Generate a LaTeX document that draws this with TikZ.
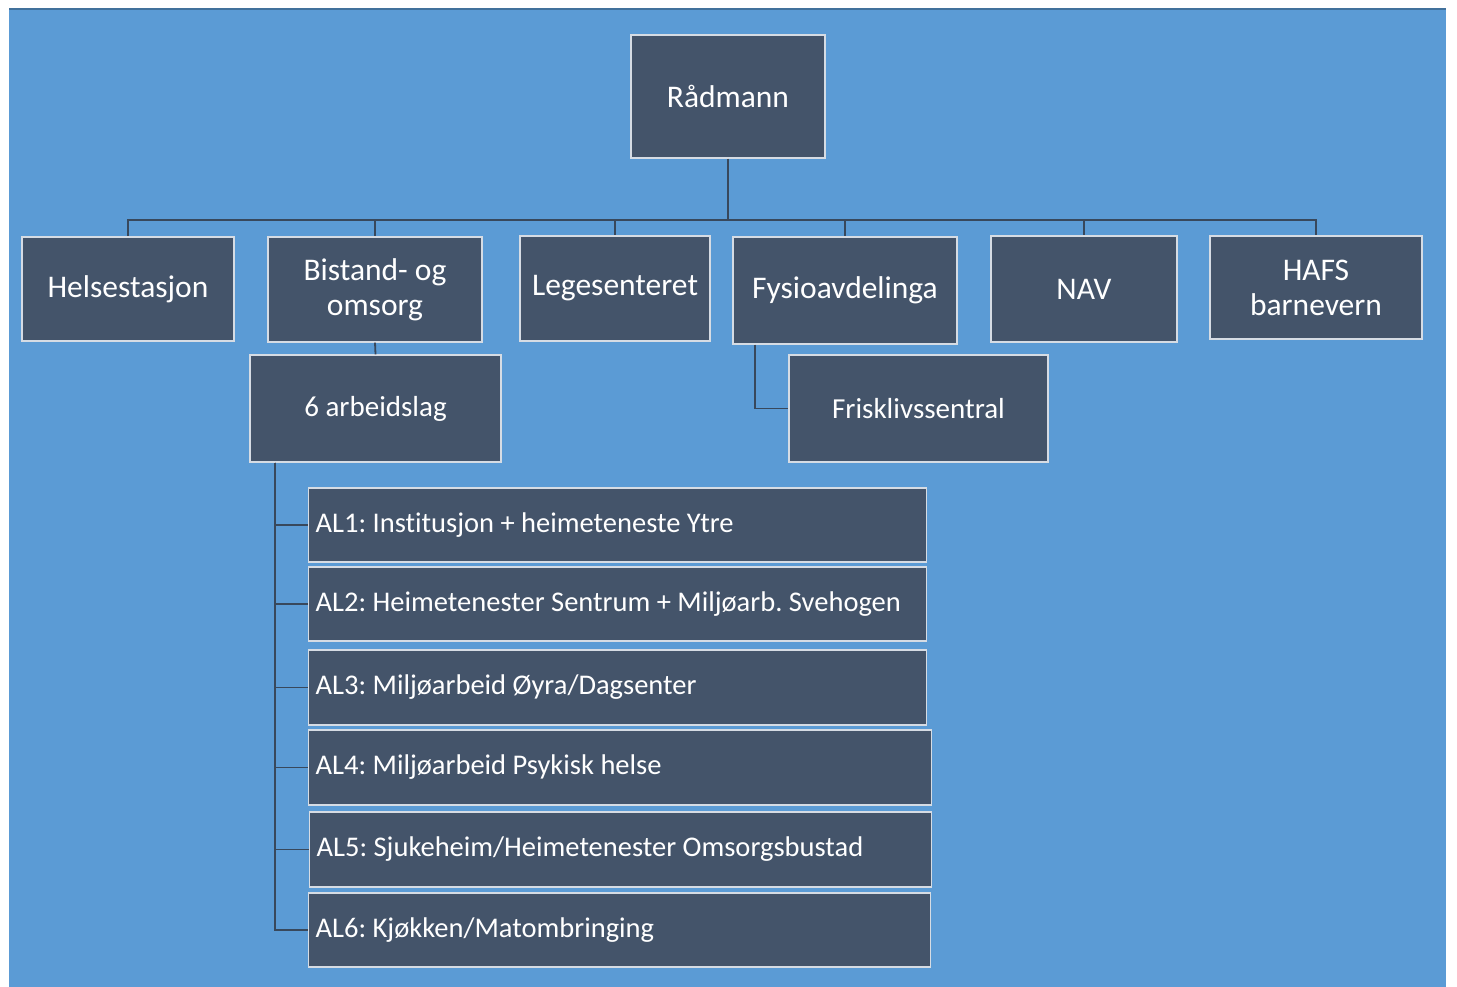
\documentclass[tikz,border=0pt]{standalone}
\usepackage{fontspec}
\setmainfont{Carlito}[Ligatures=NoCommon]
\definecolor{bg}{HTML}{5B9BD5}
\definecolor{bgedge}{HTML}{41719C}
\definecolor{boxfill}{HTML}{44546A}
\definecolor{boxline}{HTML}{D6DCE4}
\definecolor{conn}{HTML}{38485C}
\newcommand{\altext}[2]{\makebox[#1][l]{#2}}
\begin{document}
\frenchspacing
\begin{tikzpicture}[x=1pt,y=-1pt,
  box/.style={draw=boxline, line width=1.3pt, fill=boxfill, text=white,
    font=\fontsize{31.5}{35}\selectfont, inner sep=0pt, align=center},
  midbox/.style={box, font=\fontsize{29}{35}\selectfont},
  albox/.style={box, font=\fontsize{28.5}{34}\selectfont, anchor=west, inner xsep=7pt, inner ysep=0pt},
  conn/.style={draw=conn, line width=1.8pt}]
\useasboundingbox (0,0) rectangle (1457,987);
\fill[bg] (9,8) rectangle (1446,987);
\draw[bgedge, line width=2pt] (9,9) -- (1446,9);

\node[box, minimum width=194pt, minimum height=123pt] (radmann) at (728,96.5) {Rådmann};
\node[box, minimum width=212pt, minimum height=104pt] (helse) at (128,289) {Helsestasjon};
\node[box, minimum width=214pt, minimum height=105pt] (bistand) at (375,289.5) {Bistand- og\\omsorg};
\node[box, minimum width=190pt, minimum height=105pt] (lege) at (615,288.5) {Legesenteret};
\node[box, minimum width=224pt, minimum height=107pt] (fysio) at (845,290.5) {Fysioavdelinga};
\node[box, minimum width=186pt, minimum height=106pt] (nav) at (1084,289) {NAV};
\node[box, minimum width=212pt, minimum height=103pt] (hafs) at (1316,287.5) {HAFS\\barnevern};
\node[midbox, minimum width=251pt, minimum height=107pt] (arb) at (375.5,408.5) {6 arbeidslag};
\node[midbox, minimum width=259pt, minimum height=107pt] (frisk) at (918.5,408.5) {Frisklivssentral};

\node[albox, minimum height=74pt] (al1) at (308,525) {\altext{604pt}{AL1: Institusjon + heimeteneste Ytre}};
\node[albox, minimum height=74pt] (al2) at (308,604) {\altext{604pt}{AL2: Heimetenester Sentrum + Miljøarb. Svehogen}};
\node[albox, minimum height=75pt] (al3) at (308,687.5) {\altext{604pt}{AL3: Miljøarbeid Øyra/Dagsenter}};
\node[albox, minimum height=75pt] (al4) at (308,767.5) {\altext{609pt}{AL4: Miljøarbeid Psykisk helse}};
\node[albox, minimum height=75pt] (al5) at (309,849.5) {\altext{608pt}{AL5: Sjukeheim/Heimetenester Omsorgsbustad}};
\node[albox, minimum height=74pt] (al6) at (308,930) {\altext{608pt}{AL6: Kjøkken/Matombringing}};

\coordinate (bus) at (728,220);
\draw[conn] (radmann.south) -- (bus);
\foreach \n in {helse,bistand,lege,fysio,nav,hafs}
  \draw[conn] (bus) -| (\n.north);
\draw[conn] (bistand.south) -- (arb.north);
\draw[conn] ([xshift=23pt]fysio.south west) |- (frisk.west);
\foreach \n in {al1,al2,al3,al4,al5,al6}
  \draw[conn] ([xshift=26pt]arb.south west) |- (\n.west);
\end{tikzpicture}
\end{document}
